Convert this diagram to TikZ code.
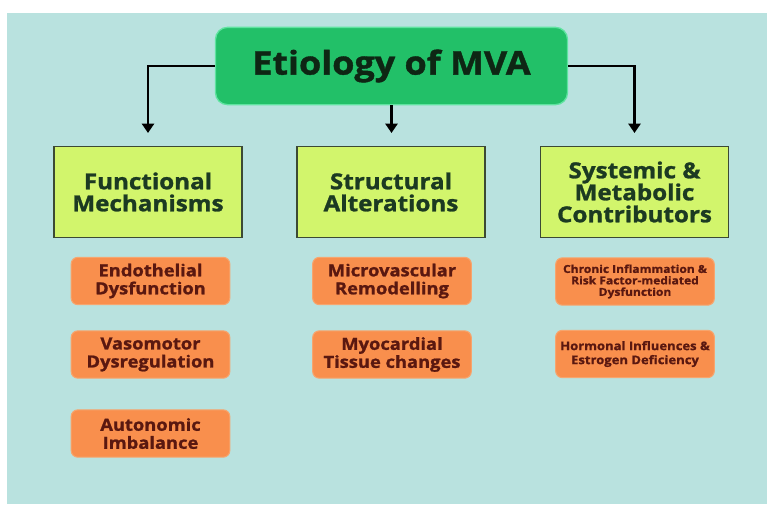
\documentclass[tikz,border=0pt]{standalone}
\usepackage{fontspec}
\setmainfont{Open Sans}[BoldFeatures={FakeBold=1.2,FakeStretch=1.1}]
\usetikzlibrary{arrows.meta}
\definecolor{bgteal}{HTML}{B9E2DF}
\definecolor{mvagreen}{HTML}{22C068}
\definecolor{mvaedge}{HTML}{5FE3A0}
\definecolor{mvatext}{HTML}{0E2614}
\definecolor{catfill}{HTML}{D2F56C}
\definecolor{catedge}{HTML}{3C4A34}
\definecolor{cattext}{HTML}{1C3A22}
\definecolor{orfill}{HTML}{F98F4D}
\definecolor{oredge}{HTML}{F6A56E}
\definecolor{ortext}{HTML}{5A1810}
\begin{document}
\begin{tikzpicture}[x=0.75pt,y=-0.75pt]
    \tikzset{>={Triangle[width=9pt,length=7pt]}}
    \tikzset{mvabox/.style={draw=mvaedge, line width=1pt, fill=mvagreen, rounded corners=9pt,
        minimum width=264pt, minimum height=58pt, text=mvatext,
        font=\bfseries\fontsize{24.5}{28}\selectfont}}
    \tikzset{catbox/.style={draw=catedge, line width=1pt, fill=catfill,
        minimum width=141pt, minimum height=68.5pt, align=center, text=cattext,
        font=\bfseries\fontsize{16.5}{16.5}\selectfont}}
    \tikzset{subbox/.style={draw=oredge, line width=0.8pt, fill=orfill, rounded corners=5pt,
        minimum width=119pt, minimum height=35.5pt, align=center, text=ortext,
        font=\bfseries\fontsize{12.5}{13.5}\selectfont}}
    \tikzset{tiny/.style={font=\bfseries\fontsize{8.2}{8.6}\selectfont}}
    \tikzset{small/.style={font=\bfseries\fontsize{8.9}{10.5}\selectfont}}
    \tikzset{link/.style={->, line width=2pt, black}}
    % background
    \fill[white] (0,0) rectangle (767,504);
    \fill[bgteal] (7,13) rectangle (767,504);
    % title and the three columns
    \node[mvabox] (mva) at (391.5,66) {Etiology of MVA};
    \node[catbox] (fm) at (148,192) {Functional\\Mechanisms};
    \node[catbox] (sa) at (391,192) {Structural\\Alterations};
    \node[catbox] (smc) at (634.5,192) {Systemic \&\\Metabolic\\Contributors};
    \node[subbox] (ed) at (150.5,281) {Endothelial\\Dysfunction};
    \node[subbox] (vd) at (150.5,354.5) {Vasomotor\\Dysregulation};
    \node[subbox] (ai) at (150.5,433.5) {Autonomic\\Imbalance};
    \node[subbox] (mr) at (392,281) {Microvascular\\Remodelling};
    \node[subbox] (mt) at (392,354.5) {Myocardial\\Tissue changes};
    \node[subbox,tiny] (ci) at (635,281.5) {Chronic Inflammation \&\\Risk Factor-mediated\\Dysfunction};
    \node[subbox,small] (hi) at (635,354) {Hormonal Influences \&\\Estrogen Deficiency};
    % connectors
    \draw[link, shorten >=9.5pt] (mva.west) -| (fm.north);
    \draw[link, shorten >=9.5pt] (mva.south) -- (mva.south |- sa.north);
    \draw[link, shorten >=9.5pt] (mva.east) -| (smc.north);
\end{tikzpicture}
\end{document}
